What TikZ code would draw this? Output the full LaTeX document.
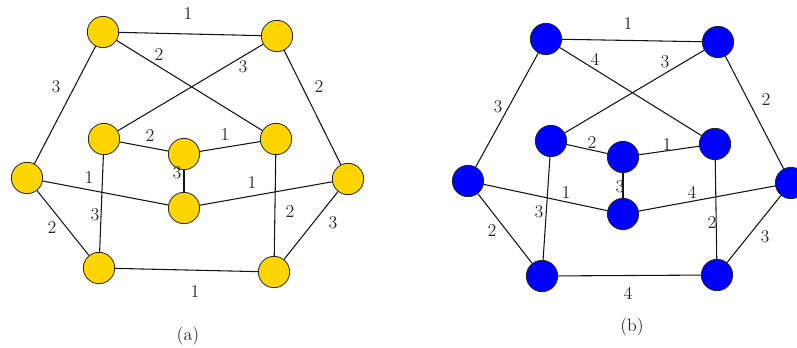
\documentclass[tikz,border=0pt]{standalone}
\usepackage{tikz}
\definecolor{nodeyellow}{RGB}{255,213,0}
\definecolor{nodeblue}{RGB}{0,0,255}
\definecolor{edgecol}{RGB}{20,20,20}
\begin{document}
\begin{tikzpicture}[x=0.75pt,y=-0.75pt,
  vert/.style={circle,draw=black!85,line width=0.6pt,minimum size=23.5pt,inner sep=0pt},
  yv/.style={vert,fill=nodeyellow},
  bv/.style={vert,fill=nodeblue},
  econn/.style={draw=edgecol,line width=0.8pt},
  wlab/.style={font=\fontsize{13.5}{15}\selectfont,inner sep=0pt,text=black!85},
  captext/.style={font=\fontsize{13.5}{15}\selectfont,inner sep=0pt,text=black!85}]
\useasboundingbox (0,0) rectangle (797,347);
% ---------- (a) ----------
\node[yv] (aT1) at (103,32) {};
\node[yv] (aT2) at (277,36) {};
\node[yv] (aL) at (27,178) {};
\node[yv] (aR) at (348,179) {};
\node[yv] (aBL) at (99,268) {};
\node[yv] (aBR) at (274,272) {};
\node[yv] (aIL) at (104,139) {};
\node[yv] (aIR) at (276,139) {};
\node[yv] (aC1) at (184,154) {};
\node[yv] (aC2) at (184,208) {};
\draw[econn] (aT1) -- (aT2);
\draw[econn] (aT1) -- (aIR);
\draw[econn] (aT2) -- (aIL);
\draw[econn] (aT1) -- (aL);
\draw[econn] (aT2) -- (aR);
\draw[econn] (aIL) -- (aC1);
\draw[econn] (aC1) -- (aIR);
\draw[econn] (aC1) -- (aC2);
\draw[econn] (aL) -- (aC2);
\draw[econn] (aC2) -- (aR);
\draw[econn] (aIL) -- (aBL);
\draw[econn] (aIR) -- (aBR);
\draw[econn] (aL) -- (aBL);
\draw[econn] (aR) -- (aBR);
\draw[econn] (aBL) -- (aBR);
\node[wlab] (la1) at (188,14) {1};
\node[wlab] (la2) at (159,55) {2};
\node[wlab] (la3) at (243,67) {3};
\node[wlab] (la4) at (56,87) {3};
\node[wlab] (la5) at (319,87) {2};
\node[wlab] (la6) at (150,136) {2};
\node[wlab] (la7) at (225,135) {1};
\node[wlab] (la8) at (177,173) {3};
\node[wlab] (la9) at (89,178) {1};
\node[wlab] (la10) at (252,183) {1};
\node[wlab] (la11) at (95,215) {3};
\node[wlab] (la12) at (290,212) {2};
\node[wlab] (la13) at (52,228) {2};
\node[wlab] (la14) at (333,223) {3};
\node[wlab] (la15) at (195,292) {1};
\node[captext] (capa) at (188,336) {(a)};
% ---------- (b) ----------
\node[bv] (bT1) at (546,39) {};
\node[bv] (bT2) at (718,42) {};
\node[bv] (bL) at (468,181) {};
\node[bv] (bR) at (791,183) {};
\node[bv] (bBL) at (542,276) {};
\node[bv] (bBR) at (717,275) {};
\node[bv] (bIL) at (551,141) {};
\node[bv] (bIR) at (715,144) {};
\node[bv] (bC1) at (623,157) {};
\node[bv] (bC2) at (623,214) {};
\draw[econn] (bT1) -- (bT2);
\draw[econn] (bT1) -- (bIR);
\draw[econn] (bT2) -- (bIL);
\draw[econn] (bT1) -- (bL);
\draw[econn] (bT2) -- (bR);
\draw[econn] (bIL) -- (bC1);
\draw[econn] (bC1) -- (bIR);
\draw[econn] (bC1) -- (bC2);
\draw[econn] (bL) -- (bC2);
\draw[econn] (bC2) -- (bR);
\draw[econn] (bIL) -- (bBL);
\draw[econn] (bIR) -- (bBR);
\draw[econn] (bL) -- (bBL);
\draw[econn] (bR) -- (bBR);
\draw[econn] (bBL) -- (bBR);
\node[wlab] (lb1) at (628,24) {1};
\node[wlab] (lb2) at (595,59) {4};
\node[wlab] (lb3) at (665,62) {3};
\node[wlab] (lb4) at (498,107) {3};
\node[wlab] (lb5) at (766,100) {2};
\node[wlab] (lb6) at (592,143) {2};
\node[wlab] (lb7) at (667,145) {1};
\node[wlab] (lb8) at (620,187) {3};
\node[wlab] (lb9) at (566,193) {1};
\node[wlab] (lb10) at (692,192) {4};
\node[wlab] (lb11) at (539,212) {3};
\node[wlab] (lb12) at (712,223) {2};
\node[wlab] (lb13) at (492,231) {2};
\node[wlab] (lb14) at (765,237) {3};
\node[wlab] (lb15) at (628,293) {4};
\node[captext] (capb) at (632,327) {(b)};
\end{tikzpicture}
\end{document}
